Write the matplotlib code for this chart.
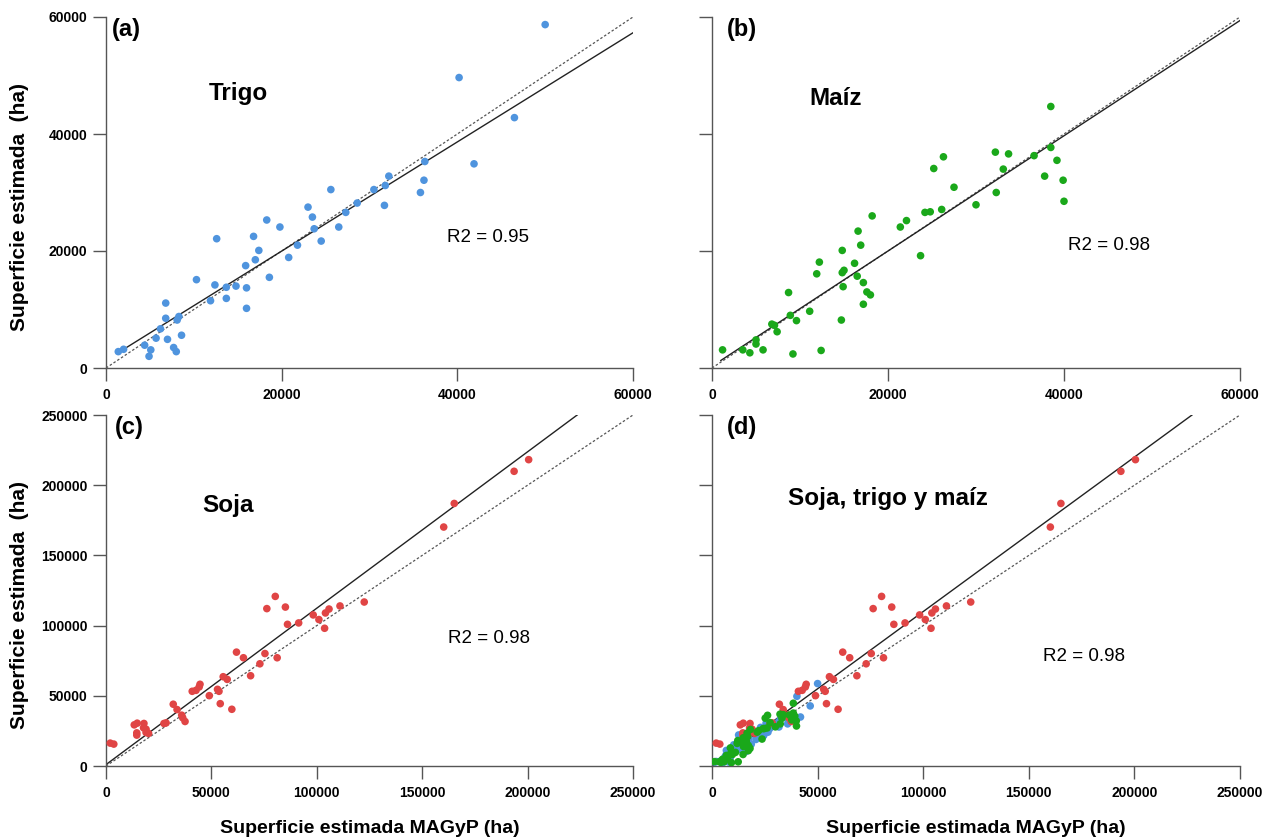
import numpy as np
import matplotlib.pyplot as plt

plt.rcParams['font.family'] = ['Liberation Sans', 'DejaVu Sans']

# superficie MAGyP (x) vs superficie estimada (y), ha
trigo_x = [50000, 40200, 46500, 41900, 36300, 36200, 35800, 32200, 31800, 30500,
           31700, 28600, 27300, 26500, 25600, 23000, 23500, 23700, 24500, 21800,
           19800, 20800, 18300, 16800, 17400, 17000, 18600, 15900, 12600, 16000,
           16000, 14800, 13700, 13700, 12400, 11900, 10300, 6800, 6800, 8300,
           8100, 6200, 5700, 7000, 8600, 4400, 5100, 4900, 7700, 8000, 1400, 2000]
trigo_y = [58700, 49650, 42800, 34900, 35300, 32100, 30000, 32800, 31200, 30500,
           27800, 28200, 26600, 24100, 30500, 27500, 25800, 23800, 21700, 21000,
           24100, 18900, 25300, 22500, 20100, 18500, 15500, 17500, 22100, 13700,
           10200, 14000, 13800, 11900, 14200, 11500, 15100, 11100, 8500, 8800,
           8200, 6700, 5100, 4900, 5600, 3900, 3100, 2000, 3500, 2800, 2800, 3200]

maiz_x = [38500, 38500, 36600, 39200, 37800, 39900, 40000, 32200, 33700, 33100,
          32300, 30000, 27500, 26300, 25200, 26100, 24800, 24200, 22100, 21400,
          23700, 18200, 16600, 16900, 14800, 16200, 15000, 14800, 16500, 17200,
          17600, 18000, 17200, 14900, 14700, 12200, 11900, 8700, 11100, 8900,
          9600, 6800, 7100, 7400, 5000, 5000, 5800, 3500, 4300, 1200, 9200, 12400]
maiz_y = [44700, 37700, 36300, 35500, 32800, 32100, 28500, 36900, 36600, 34000,
          30000, 27900, 30900, 36100, 34100, 27100, 26700, 26600, 25200, 24100,
          19200, 26000, 23400, 21000, 20100, 17900, 16700, 16300, 15700, 14600,
          13000, 12500, 10900, 13900, 8200, 18100, 16100, 12900, 9700, 9000,
          8100, 7500, 7300, 6200, 4800, 4100, 3100, 3100, 2600, 3100, 2400, 3000]

soja_x = [200500, 193600, 165200, 160200, 122500, 111000, 105800, 104100, 98300, 101000,
          103700, 91400, 86100, 85100, 80300, 76300, 75400, 81200, 73000, 68600,
          65200, 61900, 59700, 57500, 55600, 54200, 53600, 52900, 49000, 44600,
          44200, 42700, 40900, 37500, 36400, 35900, 33700, 31900, 28500, 27500,
          20200, 19000, 18000, 14800, 13400, 14600, 14600, 17800, 19000, 2000, 3700]
soja_y = [218200, 209900, 187000, 170200, 116800, 114000, 111800, 109000, 107600, 104300,
          98100, 101900, 100900, 113200, 120800, 112100, 80100, 77100, 72800, 64300,
          77100, 81100, 40400, 61700, 63600, 44400, 53200, 54600, 50100, 58200,
          56300, 53900, 53200, 31700, 34300, 36200, 40200, 44000, 30700, 30300,
          23200, 26200, 30300, 30500, 29300, 23600, 22000, 27200, 23900, 16300, 15600]

# ajustes lineales (pendiente, ordenada)
fits = {'a': (0.933, 1325), 'b': (0.985, 300), 'c': (1.114, 1000), 'd': (1.10, 0)}

blue = '#4f94de'
green = '#1aa81a'
red = '#e04545'
axis_col = '#555555'

W, H = 1278, 838
fig = plt.figure(figsize=(W / 100, H / 100), dpi=100)


def px_box(left, top, right, bottom):
    return [left / W, 1 - bottom / H, (right - left) / W, (bottom - top) / H]


pos = {'a': px_box(106, 17, 633, 368),
       'b': px_box(712, 17, 1240, 368),
       'c': px_box(106, 415, 633, 766),
       'd': px_box(712, 415, 1240, 766)}


def style(ax, lim, ticks, ylabels=True):
    ax.patch.set_visible(False)
    ax.set_xlim(0, lim)
    ax.set_ylim(0, lim)
    ax.set_xticks(ticks)
    ax.set_yticks(ticks)
    ax.set_xticklabels([str(t) for t in ticks], fontweight='bold', fontsize=10)
    if ylabels:
        ax.set_yticklabels([str(t) for t in ticks], fontweight='bold', fontsize=10)
    else:
        ax.set_yticklabels([])
    for s in ['top', 'right']:
        ax.spines[s].set_visible(False)
    for s in ['left', 'bottom']:
        ax.spines[s].set_color(axis_col)
        ax.spines[s].set_linewidth(1.0)
    ax.tick_params(direction='out', length=9.5, width=1.0, color=axis_col)
    ax.tick_params(axis='x', pad=5)
    ax.tick_params(axis='y', pad=3.8)


def lines(ax, key, lim, xmin):
    m, b = fits[key]
    xend = min(lim, (lim - b) / m)
    xs = np.array([xmin, xend])
    ax.plot([0, lim], [0, lim], color='#555555', lw=0.9, ls=(0, (2, 1.6)), zorder=1)
    ax.plot(xs, m * xs + b, color='#222222', lw=1.0, zorder=1)


small = [0, 20000, 40000, 60000]
big = [0, 50000, 100000, 150000, 200000, 250000]

ax_c = fig.add_axes(pos['c'])
style(ax_c, 250000, big)
lines(ax_c, 'c', 250000, 0)
ax_c.scatter(soja_x, soja_y, s=30, color=red, edgecolors='none', zorder=3)
ax_c.text(45800, 185800, 'Soja', fontsize=17.5, fontweight='bold', va='center')
ax_c.text(181900, 90500, 'R2 = 0.98', fontsize=13.5, ha='center', va='center')
ax_c.text(0.017, 0.997, '(c)', transform=ax_c.transAxes, fontsize=17,
          fontweight='bold', va='top')

ax_d = fig.add_axes(pos['d'])
style(ax_d, 250000, big, ylabels=False)
lines(ax_d, 'd', 250000, 0)
ax_d.scatter(trigo_x, trigo_y, s=30, color=blue, edgecolors='none', zorder=3)
ax_d.scatter(soja_x, soja_y, s=30, color=red, edgecolors='none', zorder=3)
ax_d.scatter(maiz_x, maiz_y, s=30, color=green, edgecolors='none', zorder=3)
ax_d.text(35800, 190600, 'Soja, trigo y maíz', fontsize=17.5, fontweight='bold', va='center')
ax_d.text(176000, 77800, 'R2 = 0.98', fontsize=13.5, ha='center', va='center')
ax_d.text(0.028, 0.997, '(d)', transform=ax_d.transAxes, fontsize=17,
          fontweight='bold', va='top')

ax_a = fig.add_axes(pos['a'])
style(ax_a, 60000, small)
lines(ax_a, 'a', 60000, 1400)
ax_a.scatter(trigo_x, trigo_y, s=30, color=blue, edgecolors='none', zorder=3)
ax_a.text(11700, 46900, 'Trigo', fontsize=17.5, fontweight='bold', va='center')
ax_a.text(43500, 22300, 'R2 = 0.95', fontsize=13.5, ha='center', va='center')
ax_a.text(0.011, 0.997, '(a)', transform=ax_a.transAxes, fontsize=17,
          fontweight='bold', va='top')

ax_b = fig.add_axes(pos['b'])
style(ax_b, 60000, small, ylabels=False)
lines(ax_b, 'b', 60000, 1000)
ax_b.scatter(maiz_x, maiz_y, s=30, color=green, edgecolors='none', zorder=3)
ax_b.text(11100, 46100, 'Maíz', fontsize=17.5, fontweight='bold', va='center')
ax_b.text(45100, 21000, 'R2 = 0.98', fontsize=13.5, ha='center', va='center')
ax_b.text(0.028, 0.997, '(b)', transform=ax_b.transAxes, fontsize=17,
          fontweight='bold', va='top')

# etiquetas de ejes
for yc in [207, 605]:
    fig.text(20 / W, 1 - yc / H, 'Superficie estimada  (ha)', rotation=90,
             fontsize=15, fontweight='bold', ha='center', va='center')
for xc in [369.5, 976]:
    fig.text(xc / W, 1 - 833 / H, 'Superficie estimada MAGyP (ha)',
             fontsize=14, fontweight='bold', ha='center', va='baseline')

plt.savefig('out.png', dpi=100)
